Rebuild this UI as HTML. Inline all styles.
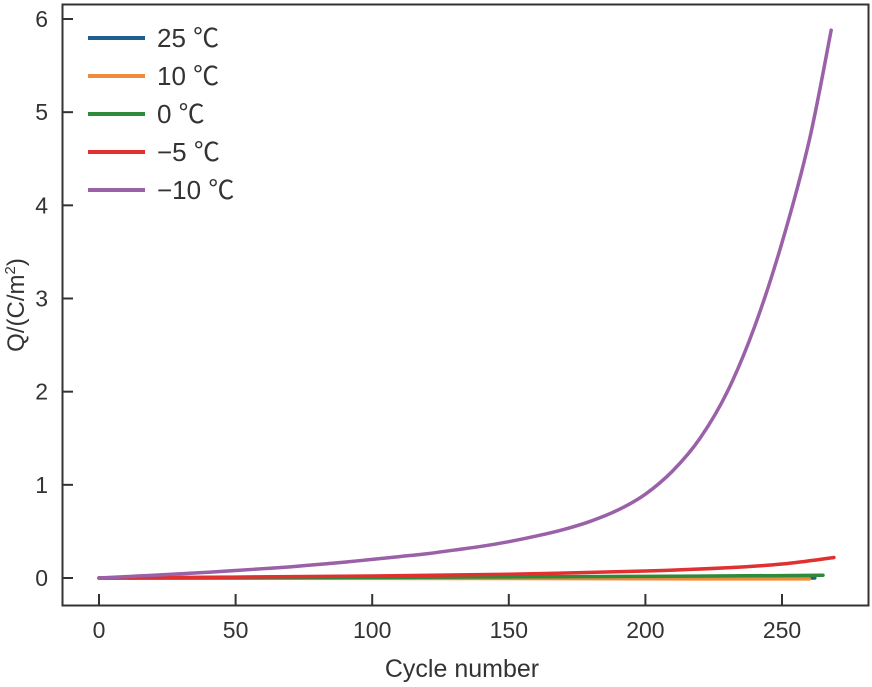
<!DOCTYPE html>
<html><head><meta charset="utf-8"><style>
body{margin:0;background:#fff;}
svg{display:block;font-family:"Liberation Sans","Noto Sans CJK SC",sans-serif;}
</style></head><body>
<svg id="chart" width="872" height="687"></svg>
<script>
const xTicks=[0,50,100,150,200,250];
const yTicks=[0,1,2,3,4,5,6];
const labels=["25 ℃","10 ℃","0 ℃","−5 ℃","−10 ℃"];
const colors=["#1f5f8f","#f08a3c","#2e8b3a","#e03030","#9a60a8"];
const xs25=[0,50,100,150,200,250,262];
const ys25=[0,0,0,0,0,0,0];
const xs10=[0,50,100,150,200,250,260];
const ys10=[0,-0.002,-0.004,-0.006,-0.008,-0.01,-0.01];
const xs0=[0,50,100,150,200,250,265];
const ys0=[0,0.003,0.007,0.012,0.018,0.026,0.03];
const xsM5=[0,50,100,150,200,230,250,269];
const ysM5=[0,0.01,0.022,0.04,0.075,0.11,0.15,0.22];
const xsM10=[0,10,20,30,40,50,60,70,80,90,100,110,120,130,140,150,160,170,180,190,200,210,220,230,240,250,260,268];
const ysM10=[0,0.015,0.03,0.045,0.062,0.08,0.1,0.12,0.145,0.17,0.2,0.23,0.26,0.3,0.34,0.39,0.45,0.52,0.61,0.73,0.9,1.15,1.5,2.0,2.7,3.6,4.7,5.88];
const series=[[xs25,ys25],[xs10,ys10],[xs0,ys0],[xsM5,ysM5],[xsM10,ysM10]];

const NS="http://www.w3.org/2000/svg";
const svg=document.getElementById('chart');
const X=v=>99+v*(782-99)/250;
const Y=v=>578-v*(578-19)/6;
function mk(t,a,p){const e=document.createElementNS(NS,t);for(const k in a)e.setAttribute(k,a[k]);(p||svg).appendChild(e);return e;}
const frame=mk('rect',{x:62.5,y:4.5,width:806,height:601,fill:'none',stroke:'#333','stroke-width':2});


xTicks.forEach(t=>{
 const l=mk('line',{x1:X(t),x2:X(t),y1:605,y2:594,stroke:'#333','stroke-width':2});
 
 
 const tx=mk('text',{x:X(t),y:638,'text-anchor':'middle','font-size':23,fill:'#333'});tx.textContent=t;
 
 
});
yTicks.forEach(t=>{
 const l=mk('line',{x1:62,x2:73,y1:Y(t),y2:Y(t),stroke:'#333','stroke-width':2});
 
 
 const tx=mk('text',{x:48,y:Y(t)+8,'text-anchor':'end','font-size':23,fill:'#333'});tx.textContent=t;
 
 
});
const xl=mk('text',{x:462,y:677,'text-anchor':'middle','font-size':25,fill:'#333'});xl.textContent='Cycle number';


const yl=mk('text',{x:0,y:0,'text-anchor':'middle','font-size':24,fill:'#333',transform:'translate(24,305) rotate(-90)'});
yl.innerHTML='Q/(C/m<tspan font-size="15" dy="-9">2</tspan><tspan dy="9">)</tspan>';


function path(xs,ys){
 const p=xs.map((x,i)=>[X(x),Y(ys[i])]);
 let d='M'+p[0][0]+','+p[0][1];
 for(let i=0;i<p.length-1;i++){
  const p0=p[Math.max(0,i-1)],p1=p[i],p2=p[i+1],p3=p[Math.min(p.length-1,i+2)];
  const c1=[p1[0]+(p2[0]-p0[0])/6,p1[1]+(p2[1]-p0[1])/6];
  const c2=[p2[0]-(p3[0]-p1[0])/6,p2[1]-(p3[1]-p1[1])/6];
  d+=` C${c1[0]},${c1[1]} ${c2[0]},${c2[1]} ${p2[0]},${p2[1]}`;
 }
 return d;
}
series.forEach((s,i)=>{
 const pe=mk('path',{d:path(s[0],s[1]),fill:'none',stroke:colors[i],'stroke-width':3.5,'stroke-linecap':'round','stroke-linejoin':'round'});
 
 
});
labels.forEach((lab,i)=>{
 const y=38+i*38;
 const l=mk('line',{x1:88,x2:145,y1:y,y2:y,stroke:colors[i],'stroke-width':4});
 
 
 const t=mk('text',{x:157,y:y+9,'font-size':26,fill:'#333'});t.textContent=lab;
 
 
});
</script>
</body></html>
